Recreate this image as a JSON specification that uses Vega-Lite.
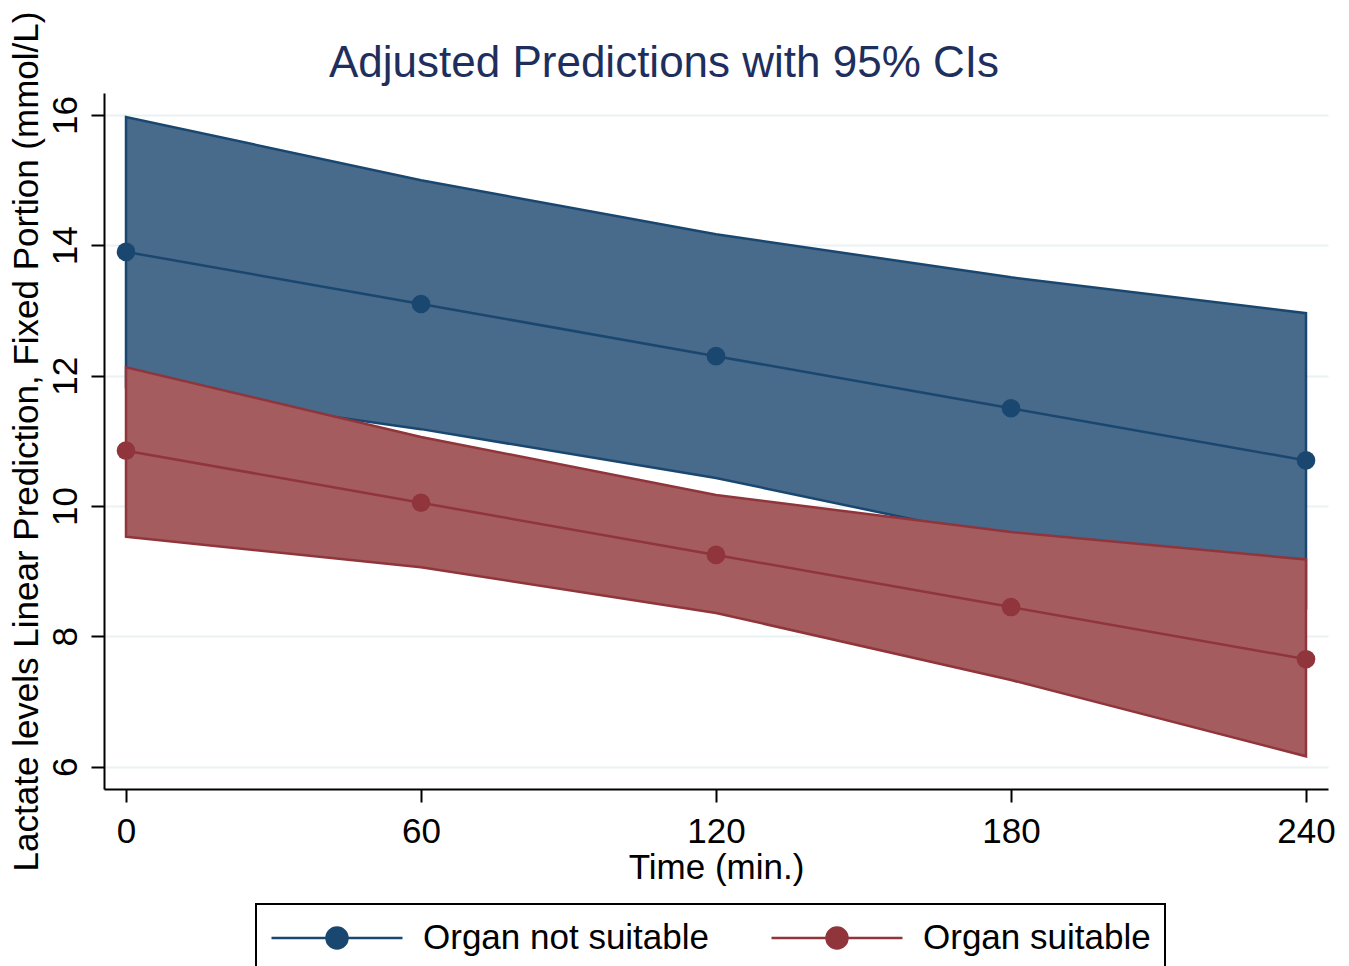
{
  "$schema": "https://vega.github.io/schema/vega-lite/v6.json",
  "width": 1224,
  "height": 696,
  "autosize": {"type": "none"},
  "padding": {"left": 104, "top": 93, "right": 21, "bottom": 177},
  "background": "white",
  "title": {
    "text": "Adjusted Predictions with 95% CIs",
    "font": "Liberation Sans",
    "fontSize": 44,
    "fontWeight": "normal",
    "color": "#1e2f5e",
    "frame": "group",
    "anchor": "middle",
    "dx": -52,
    "baseline": "alphabetic",
    "offset": 0,
    "dy": 110
  },
  "data": {
    "values": [
      {"group": "Organ not suitable", "time": 0, "mean": 13.90, "lo": 11.82, "hi": 15.97},
      {"group": "Organ not suitable", "time": 60, "mean": 13.10, "lo": 11.18, "hi": 15.00},
      {"group": "Organ not suitable", "time": 120, "mean": 12.30, "lo": 10.43, "hi": 14.17},
      {"group": "Organ not suitable", "time": 180, "mean": 11.50, "lo": 9.48, "hi": 13.51},
      {"group": "Organ not suitable", "time": 240, "mean": 10.70, "lo": 8.44, "hi": 12.96},
      {"group": "Organ suitable", "time": 0, "mean": 10.85, "lo": 9.53, "hi": 12.13},
      {"group": "Organ suitable", "time": 60, "mean": 10.05, "lo": 9.06, "hi": 11.06},
      {"group": "Organ suitable", "time": 120, "mean": 9.25, "lo": 8.36, "hi": 10.17},
      {"group": "Organ suitable", "time": 180, "mean": 8.45, "lo": 7.33, "hi": 9.60},
      {"group": "Organ suitable", "time": 240, "mean": 7.65, "lo": 6.16, "hi": 9.18}
    ]
  },
  "config": {
    "view": {"stroke": null},
    "axis": {
      "domainColor": "black",
      "domainWidth": 2,
      "tickColor": "black",
      "tickWidth": 2,
      "tickSize": 13,
      "labelFont": "Liberation Sans",
      "labelFontSize": 35,
      "labelColor": "black",
      "titleFont": "Liberation Sans",
      "titleFontSize": 35,
      "titleFontWeight": "normal",
      "titleColor": "black",
      "labelFlush": false,
      "labelOverlap": false
    }
  },
  "layer": [
    {
      "transform": [{"filter": "datum.group == 'Organ not suitable'"}],
      "mark": {"type": "area", "fill": "#486a8b", "stroke": "#1a476f", "strokeWidth": 2.5, "opacity": 1},
      "encoding": {
        "x": {
          "field": "time", "type": "quantitative",
          "scale": {"domain": [-4.475, 244.475], "nice": false, "zero": false},
          "axis": {"values": [0, 60, 120, 180, 240], "format": "d", "grid": false, "title": "Time (min.)", "labelPadding": 12, "titlePadding": 1}
        },
        "y": {
          "field": "lo", "type": "quantitative",
          "scale": {"domain": [5.658, 16.338], "nice": false, "zero": false},
          "axis": {
            "values": [6, 8, 10, 12, 14, 16],
            "format": "d",
            "grid": true, "gridColor": "#eaf2f3", "gridWidth": 2,
            "labelAngle": -90, "labelAlign": "center", "labelBaseline": "alphabetic", "labelPadding": 15,
            "title": "Lactate levels Linear Prediction, Fixed Portion (mmol/L)", "titlePadding": 4
          }
        },
        "y2": {"field": "hi"}
      }
    },
    {
      "transform": [{"filter": "datum.group == 'Organ suitable'"}],
      "mark": {"type": "area", "fill": "#a45c5e", "stroke": "#90353b", "strokeWidth": 2.5, "opacity": 1},
      "encoding": {
        "x": {"field": "time", "type": "quantitative"},
        "y": {"field": "lo", "type": "quantitative"},
        "y2": {"field": "hi"}
      }
    },
    {
      "mark": {"type": "line", "strokeWidth": 2.5},
      "encoding": {
        "x": {"field": "time", "type": "quantitative"},
        "y": {"field": "mean", "type": "quantitative"},
        "color": {
          "field": "group", "type": "nominal",
          "scale": {"domain": ["Organ not suitable", "Organ suitable"], "range": ["#1a476f", "#90353b"]},
          "legend": {
            "title": null,
            "orient": "none",
            "legendX": 152,
            "legendY": 811,
            "direction": "horizontal",
            "symbolType": "M-1,0L1,0M-0.16,0A0.16,0.16,0,1,1,0.16,0A0.16,0.16,0,1,1,-0.16,0Z",
            "symbolSize": 17161,
            "symbolStrokeWidth": 2.5,
            "symbolOpacity": 1,
            "labelFont": "Liberation Sans",
            "labelFontSize": 35,
            "labelColor": "black",
            "labelOffset": 19,
            "labelLimit": 1000,
            "columnPadding": 60,
            "padding": 14,
            "strokeColor": "black",
            "fillColor": "white",
            "clipHeight": 40,
            "encode": {
              "symbols": {"update": {"fill": {"scale": "color", "field": "value"}, "stroke": {"scale": "color", "field": "value"}}},
              "legend": {"update": {"strokeWidth": {"value": 2}}}
            }
          }
        }
      }
    },
    {
      "mark": {"type": "point", "filled": true, "size": 346, "opacity": 1},
      "encoding": {
        "x": {"field": "time", "type": "quantitative"},
        "y": {"field": "mean", "type": "quantitative"},
        "color": {"field": "group", "type": "nominal"}
      }
    }
  ]
}
